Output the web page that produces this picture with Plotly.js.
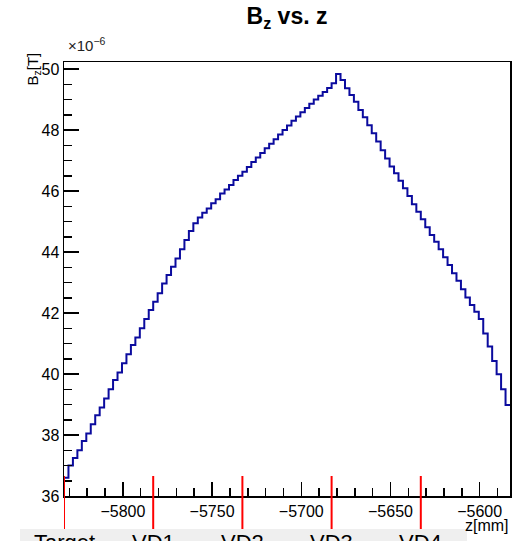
<!DOCTYPE html>
<html>
<head>
<meta charset="utf-8">
<script src="https://cdn.plot.ly/plotly-3.0.1.min.js"></script>
<style>
  html, body { margin: 0; padding: 0; background: #fff; }
  #chart { width: 525px; height: 541px; }
</style>
</head>
<body>
<div id="chart"></div>
<script>
// Histogram binning along the beam axis (mm)
const binLow = -5833;
const binWidth = 2.5;

// B_z per bin, in units of 1e-6 T
const bz = [
  36.60, 37.00, 37.25, 37.50, 37.80, 38.05, 38.35, 38.65, 38.90, 39.20,
  39.50, 39.80, 40.05, 40.35, 40.65, 40.95, 41.20, 41.50, 41.80, 42.10,
  42.37, 42.65, 42.97, 43.25, 43.52, 43.79, 44.09, 44.39, 44.69, 44.94,
  45.13, 45.29, 45.43, 45.60, 45.73, 45.92, 46.05, 46.20, 46.36, 46.50,
  46.63, 46.79, 46.95, 47.10, 47.25, 47.40, 47.55, 47.70, 47.85, 48.00,
  48.15, 48.30, 48.44, 48.58, 48.72, 48.86, 49.00, 49.12, 49.25, 49.38,
  49.53, 49.84, 49.64, 49.37, 49.15, 48.93, 48.66, 48.42, 48.16, 47.89,
  47.62, 47.34, 47.07, 46.80, 46.58, 46.34, 46.09, 45.84, 45.57, 45.32,
  45.07, 44.81, 44.56, 44.34, 44.09, 43.83, 43.57, 43.30, 43.06, 42.78,
  42.51, 42.26, 42.04, 41.80, 41.33, 40.90, 40.43, 39.99, 39.50, 38.98
];

// Detector planes along z
const detectorNames = ["Target", "VD1", "VD2", "VD3", "VD4"];
const detectorZ = [-5833, -5783, -5733, -5683, -5633];

// Axis ranges
const xRange = [-5833, -5583];
const yRange = [36, 50.23];

// Bin edges -> step line (last value repeated to close the final bin)
const edges = bz.map((_, i) => binLow + i * binWidth);
edges.push(binLow + bz.length * binWidth);
const stepY = bz.concat([bz[bz.length - 1]]);

// Page geometry helpers (pixel -> paper fraction)
const W = 525, H = 541;
const M = { l: 64, r: 15, t: 62, b: 45 };
const plotW = W - M.l - M.r, plotH = H - M.t - M.b;
const px = x => (x - M.l) / plotW;
const py = y => (H - M.b - y) / plotH;

const FONT = "Liberation Sans, Arial, Helvetica, sans-serif";

const trace = {
  type: "scatter",
  mode: "lines",
  x: edges,
  y: stepY,
  line: { shape: "hv", color: "#0b0b9e", width: 2 },
  hoverinfo: "x+y",
  showlegend: false
};

const shapes = [
  // label strip below the axis
  { type: "rect", xref: "paper", yref: "paper",
    x0: px(20), x1: px(467), y0: py(548), y1: py(529),
    fillcolor: "#efefef", line: { width: 0 }, layer: "below" }
].concat(detectorZ.map(z => ({
  type: "line", xref: "x", yref: "paper",
  x0: z, x1: z, y0: py(529), y1: py(476),
  line: { color: "#ff0000", width: 2 }
})));

const annotations = [
  { text: "B<sub>z</sub>[T]", xref: "paper", yref: "paper",
    x: px(33), y: py(51), xanchor: "center", yanchor: "top",
    textangle: -90, showarrow: false,
    font: { family: FONT, size: 15, color: "#000" } },
  { text: "×10<sup>−6</sup>", xref: "paper", yref: "paper",
    x: px(66), y: py(44), xanchor: "left", yanchor: "middle",
    showarrow: false, font: { family: FONT, size: 15, color: "#222" } },
  { text: "z[mm]", xref: "paper", yref: "paper",
    x: px(511), y: py(525), xanchor: "right", yanchor: "middle",
    showarrow: false, font: { family: FONT, size: 16, color: "#000" } }
].concat(detectorNames.map((name, i) => ({
  text: name, xref: "x", yref: "paper",
  x: detectorZ[i], y: py(528), xanchor: "center", yanchor: "top",
  showarrow: false, font: { family: FONT, size: 22, color: "#000" }
})));

const layout = {
  width: W, height: H,
  margin: M,
  paper_bgcolor: "#fff",
  plot_bgcolor: "#fff",
  font: { family: FONT, color: "#000" },
  title: {
    text: "B<sub>z</sub> vs. z",
    x: 0.5, xref: "paper", xanchor: "center",
    y: 1 - 16 / H, yref: "container", yanchor: "middle",
    font: { family: FONT, size: 23, weight: "bold", color: "#000" }
  },
  xaxis: {
    range: xRange,
    tick0: -5800, dtick: 50,
    ticks: "inside", ticklen: 14, tickwidth: 1.5, tickcolor: "#000",
    minor: { tick0: -5800, dtick: 10, ticks: "inside", ticklen: 8, tickwidth: 1.5, tickcolor: "#000", showgrid: false },
    showline: true, mirror: true, linecolor: "#000", linewidth: 1.5,
    showgrid: false, zeroline: false,
    tickfont: { family: FONT, size: 16, color: "#000" }
  },
  yaxis: {
    range: yRange,
    tick0: 36, dtick: 2,
    ticks: "inside", ticklen: 15, tickwidth: 1.5, tickcolor: "#000",
    minor: { tick0: 36, dtick: 0.5, ticks: "inside", ticklen: 8, tickwidth: 1.5, tickcolor: "#000", showgrid: false },
    showline: true, mirror: true, linecolor: "#000", linewidth: 1.5,
    showgrid: false, zeroline: false,
    tickfont: { family: FONT, size: 16, color: "#000" }
  },
  shapes: shapes,
  annotations: annotations
};

Plotly.newPlot("chart", [trace], layout, { staticPlot: true, displayModeBar: false });
</script>
</body>
</html>
